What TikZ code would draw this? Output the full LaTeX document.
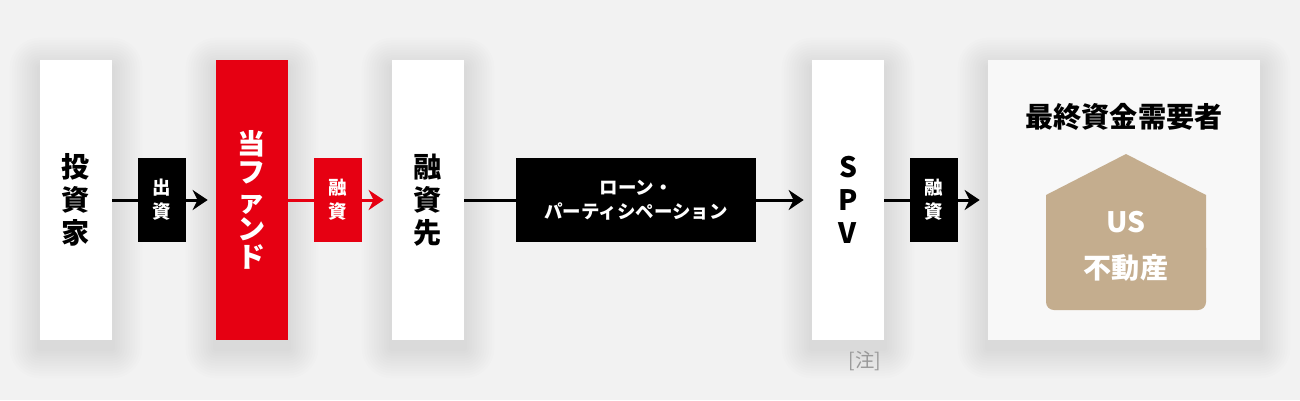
\documentclass[tikz,border=0pt]{standalone}
\usepackage{fontspec}
\setmainfont{Noto Sans CJK JP}
\usetikzlibrary{arrows.meta,backgrounds}

\definecolor{bggray}{HTML}{F2F2F2}
\definecolor{endgray}{HTML}{F8F8F8}
\definecolor{fundred}{HTML}{E60012}
\definecolor{housetan}{HTML}{C4AD8E}
\definecolor{notegray}{HTML}{999999}

% soft shadow below a named node
\newcommand\boxshadow[1]{%
  \foreach \s in {1,...,12}{%
    \fill[black,opacity=0.007,rounded corners=\s*0.05cm]
      ([shift={(-\s*2.5,8-\s*2.5)}]#1.north west) rectangle ([shift={(\s*2.5,8+\s*2.5)}]#1.south east);
  }}

\begin{document}
\begin{tikzpicture}[x=0.02cm,y=-0.02cm]

\tikzstyle{column}=[rectangle,fill=white,minimum width=1.44cm,minimum height=5.6cm,inner sep=0pt,align=center,font=\fontsize{16}{18.7}\selectfont\bfseries]
\tikzstyle{fund}=[column,fill=fundred,text=white,font=\fontsize{16}{16}\selectfont\bfseries]
\tikzstyle{tag}=[rectangle,fill=black,text=white,minimum width=0.96cm,minimum height=1.68cm,inner sep=0pt,align=center,font=\fontsize{10.5}{13.8}\selectfont\bfseries]
\tikzstyle{flow}=[-{Stealth[length=0.3cm,width=0.4cm]},line width=0.06cm,shorten >=0.16cm]
\tikzstyle{house}=[fill=housetan]

\useasboundingbox (0,0) rectangle (1300,400);

%columns
\node[column] (inv) at (76,200) {投\\資\\家};
\node[fund] (fund) at (252,200) {当\\フ\\ァ\\ン\\ド};
\node[column] (borrower) at (428,200) {融\\資\\先};
\node[column] (spv) at (848,200) {S\\P\\V};
\node[column,fill=endgray,minimum width=5.44cm] (end) at (1124,200) {};
\node[font=\fontsize{16}{18}\selectfont\bfseries] (endlabel) at (1124,117) {最終資金需要者};
\node[text=notegray,font=\fontsize{11}{13}\selectfont] (note) at (865,361) {[注]};

%shadows
\begin{scope}[on background layer]
\fill[bggray] (0,0) rectangle (1300,400);
\boxshadow{inv}
\boxshadow{fund}
\boxshadow{borrower}
\boxshadow{spv}
\boxshadow{end}
\end{scope}

%flows
\draw[flow] (inv) -- (fund);
\node[tag] (t1) at (162,200) {出\\資};
\draw[flow,fundred] (fund) -- (borrower);
\node[tag,fill=fundred] (t2) at (338,200) {融\\資};
\draw[flow] (borrower) -- (spv);
\node[tag,minimum width=4.8cm] (lp) at (636,200) {ローン・\\パーティシペーション};
\draw[flow] (spv) -- (end);
\node[tag] (t3) at (934,200) {融\\資};

%house
\fill[house,rounded corners=0.16cm] (1046,240) rectangle (1206,310);
\fill[house] (1046,260) -- (1046,195) -- (1126,154) -- (1206,195) -- (1206,260) -- cycle;
\node[text=white,font=\fontsize{16}{18}\selectfont\bfseries] (us) at (1126,222) {US};
\node[text=white,font=\fontsize{16}{18}\selectfont\bfseries] (usre) at (1126,268) {不動産};

\end{tikzpicture}
\end{document}
